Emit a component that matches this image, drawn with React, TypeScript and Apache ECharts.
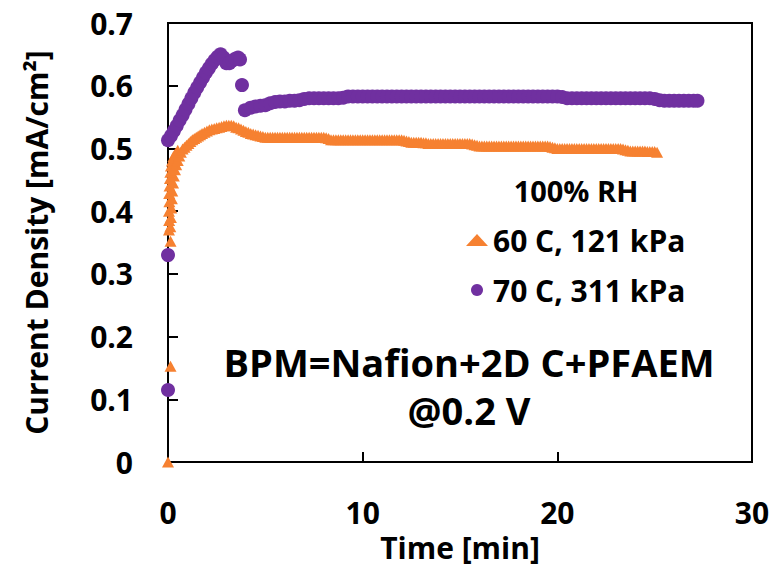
import React, { useEffect, useRef } from "react";
import * as echarts from "echarts";

// Time [min], Current Density [mA/cm2]
const series60C: [number, number][] = [
  [0, 0.0], [0.13, 0.153], [0.13, 0.352],
  [0.05, 0.37], [0.12, 0.375], [0.06, 0.385], [0.15, 0.39], [0.05, 0.4], [0.17, 0.405],
  [0.07, 0.415], [0.2, 0.42], [0.06, 0.428], [0.22, 0.432], [0.08, 0.44], [0.26, 0.445],
  [0.1, 0.452], [0.3, 0.456], [0.12, 0.462], [0.36, 0.466], [0.15, 0.472], [0.42, 0.474],
  [0.2, 0.48], [0.5, 0.481], [0.28, 0.487], [0.58, 0.488], [0.38, 0.492], [0.66, 0.494],
  [0.5, 0.497], [0.75, 0.499], [0.85, 0.502], [0.95, 0.505], [1.05, 0.508], [1.15, 0.511],
  [1.25, 0.514], [1.35, 0.516], [1.45, 0.518], [1.55, 0.52], [1.65, 0.522], [1.75, 0.524],
  [1.875, 0.526], [2.0, 0.528], [2.125, 0.53], [2.25, 0.531], [2.375, 0.532], [2.5, 0.533],
  [2.625, 0.534], [2.75, 0.535], [2.875, 0.536], [3.0, 0.537], [3.125, 0.537], [3.25, 0.537],
  [3.375, 0.536], [3.5, 0.534], [3.625, 0.533], [3.75, 0.531], [3.875, 0.529], [4.0, 0.527],
  [4.125, 0.526], [4.25, 0.524], [4.375, 0.523], [4.5, 0.522], [4.625, 0.521], [4.75, 0.52],
  [4.875, 0.519],
  [5.0, 0.518], [5.125, 0.518], [5.25, 0.518], [5.375, 0.518], [5.5, 0.518], [5.625, 0.518],
  [5.75, 0.518], [5.875, 0.518], [6.0, 0.518], [6.125, 0.518], [6.25, 0.518], [6.375, 0.518],
  [6.5, 0.518], [6.625, 0.518], [6.75, 0.518], [6.875, 0.518], [7.0, 0.518], [7.125, 0.518],
  [7.25, 0.518], [7.375, 0.518], [7.5, 0.518], [7.625, 0.518], [7.75, 0.518], [7.875, 0.518],
  [8.0, 0.518], [8.125, 0.517], [8.25, 0.516],
  [8.375, 0.514], [8.5, 0.514], [8.625, 0.514], [8.75, 0.514], [8.875, 0.514], [9.0, 0.514],
  [9.125, 0.514], [9.25, 0.514], [9.375, 0.514], [9.5, 0.514], [9.625, 0.514], [9.75, 0.514],
  [9.875, 0.514], [10.0, 0.514], [10.125, 0.514], [10.25, 0.514], [10.375, 0.514], [10.5, 0.514],
  [10.625, 0.514], [10.75, 0.514], [10.875, 0.514], [11.0, 0.514], [11.125, 0.514], [11.25, 0.514],
  [11.375, 0.514], [11.5, 0.514], [11.625, 0.514], [11.75, 0.514], [11.875, 0.514], [12.0, 0.514],
  [12.125, 0.513], [12.25, 0.512], [12.375, 0.511],
  [12.5, 0.51], [12.625, 0.51], [12.75, 0.51], [12.875, 0.51], [13.0, 0.51], [13.125, 0.509],
  [13.25, 0.509], [13.375, 0.508],
  [13.5, 0.508], [13.625, 0.508], [13.75, 0.508], [13.875, 0.508], [14.0, 0.508], [14.125, 0.508],
  [14.25, 0.508], [14.375, 0.508], [14.5, 0.508], [14.625, 0.508], [14.75, 0.508], [14.875, 0.508],
  [15.0, 0.508], [15.125, 0.508], [15.25, 0.508], [15.375, 0.508], [15.5, 0.508], [15.625, 0.507],
  [15.75, 0.506], [15.875, 0.505],
  [16.0, 0.504], [16.125, 0.504], [16.25, 0.504], [16.375, 0.504], [16.5, 0.504], [16.625, 0.504],
  [16.75, 0.504], [16.875, 0.504], [17.0, 0.504], [17.125, 0.504], [17.25, 0.504], [17.375, 0.504],
  [17.5, 0.504], [17.625, 0.504], [17.75, 0.504], [17.875, 0.504], [18.0, 0.504], [18.125, 0.504],
  [18.25, 0.504], [18.375, 0.504], [18.5, 0.504], [18.625, 0.504], [18.75, 0.504], [18.875, 0.504],
  [19.0, 0.504], [19.125, 0.504], [19.25, 0.504], [19.375, 0.504], [19.5, 0.504], [19.625, 0.503],
  [19.75, 0.502], [19.875, 0.501],
  [20.0, 0.5], [20.125, 0.5], [20.25, 0.5], [20.375, 0.5], [20.5, 0.5], [20.625, 0.5],
  [20.75, 0.5], [20.875, 0.5], [21.0, 0.5], [21.125, 0.5], [21.25, 0.5], [21.375, 0.5],
  [21.5, 0.5], [21.625, 0.5], [21.75, 0.5], [21.875, 0.5], [22.0, 0.5], [22.125, 0.5],
  [22.25, 0.5], [22.375, 0.5], [22.5, 0.5], [22.625, 0.5], [22.75, 0.5], [22.875, 0.5],
  [23.0, 0.5], [23.125, 0.5], [23.25, 0.5], [23.375, 0.499], [23.5, 0.498], [23.625, 0.497],
  [23.75, 0.496], [23.875, 0.496], [24.0, 0.496], [24.125, 0.496], [24.25, 0.496], [24.375, 0.496],
  [24.5, 0.496], [24.625, 0.495], [24.75, 0.495], [24.875, 0.495], [25.0, 0.495], [25.125, 0.494],
];

const series70C: [number, number][] = [
  [0, 0.115], [0, 0.33], [0, 0.513], [0.15, 0.52], [0.3, 0.528], [0.45, 0.536], [0.6, 0.545],
  [0.75, 0.553], [0.9, 0.562], [1.05, 0.571], [1.2, 0.58], [1.35, 0.589], [1.5, 0.597], [1.65, 0.605],
  [1.8, 0.613], [1.95, 0.621], [2.1, 0.628], [2.25, 0.635], [2.4, 0.641], [2.55, 0.646], [2.7, 0.65],
  [2.85, 0.645], [3.0, 0.636], [3.15, 0.636], [3.3, 0.64], [3.45, 0.643], [3.6, 0.645], [3.7, 0.642],
  [3.8, 0.601], [3.95, 0.561],
  [4.25, 0.565], [4.5, 0.567], [4.75, 0.568], [5.0, 0.569], [5.25, 0.572], [5.5, 0.574],
  [5.75, 0.575], [6.0, 0.575], [6.25, 0.576], [6.5, 0.576], [6.75, 0.577], [7.0, 0.579],
  [7.25, 0.58], [7.5, 0.58], [7.75, 0.58], [8.0, 0.58], [8.25, 0.58], [8.5, 0.58], [8.75, 0.58],
  [9.0, 0.581], [9.25, 0.583], [9.5, 0.583], [9.75, 0.583], [10.0, 0.583], [10.25, 0.583],
  [10.5, 0.583], [10.75, 0.583], [11.0, 0.583], [11.25, 0.583], [11.5, 0.583], [11.75, 0.583],
  [12.0, 0.583], [12.25, 0.583], [12.5, 0.583], [12.75, 0.583], [13.0, 0.583], [13.25, 0.583],
  [13.5, 0.583], [13.75, 0.583], [14.0, 0.583], [14.25, 0.583], [14.5, 0.583], [14.75, 0.583],
  [15.0, 0.583], [15.25, 0.583], [15.5, 0.583], [15.75, 0.583], [16.0, 0.583], [16.25, 0.583],
  [16.5, 0.583], [16.75, 0.583], [17.0, 0.583], [17.25, 0.583], [17.5, 0.583], [17.75, 0.583],
  [18.0, 0.583], [18.25, 0.583], [18.5, 0.583], [18.75, 0.583], [19.0, 0.583], [19.25, 0.583],
  [19.5, 0.583], [19.75, 0.583], [20.0, 0.583], [20.25, 0.582],
  [20.5, 0.58], [20.75, 0.58], [21.0, 0.58], [21.25, 0.58], [21.5, 0.58], [21.75, 0.58],
  [22.0, 0.58], [22.25, 0.58], [22.5, 0.58], [22.75, 0.58], [23.0, 0.58], [23.25, 0.58],
  [23.5, 0.58], [23.75, 0.58], [24.0, 0.58], [24.25, 0.58], [24.5, 0.58], [24.75, 0.58],
  [25.0, 0.579], [25.25, 0.577],
  [25.5, 0.576], [25.75, 0.576], [26.0, 0.576], [26.25, 0.576], [26.5, 0.576], [26.75, 0.576],
  [27.0, 0.576], [27.2, 0.576],
];

const seriesNames = ["60 C, 121 kPa", "70 C, 311 kPa"];
const legendTitle = "100% RH";
const annotationLines = ["BPM=Nafion+2D C+PFAEM", "@0.2 V"];
const xAxisTitle = "Time [min]";
const yAxisTitle = "Current Density [mA/cm²]";

const ORANGE = "#F68131";
const PURPLE = "#7030A0";
const FONT = "Open Sans";
const FS = 30;

export default function App() {
  const ref = useRef<HTMLDivElement>(null);

  useEffect(() => {
    if (!ref.current) return;
    const chart = echarts.init(ref.current, undefined, { renderer: "svg" });
    chart.setOption({
      animation: false,
      backgroundColor: "#fff",
      textStyle: { fontFamily: FONT, fontWeight: "bold", color: "#000" },
      grid: {
        left: 168,
        right: 27,
        top: 23,
        bottom: 104,
        show: true,
        borderColor: "#000",
        borderWidth: 2,
      },
      xAxis: {
        type: "value",
        min: 0,
        max: 30,
        interval: 10,
        name: xAxisTitle,
        nameLocation: "middle",
        nameGap: 69,
        nameTextStyle: { fontFamily: FONT, fontWeight: "bold", fontSize: FS, color: "#000" },
        axisLine: { show: true, lineStyle: { color: "#000", width: 2 } },
        axisTick: { show: true, inside: true, length: 10, lineStyle: { color: "#000", width: 2 } },
        axisLabel: { fontFamily: FONT, fontWeight: "bold", fontSize: FS, color: "#000", margin: 35 },
        splitLine: { show: false },
      },
      yAxis: {
        type: "value",
        min: 0,
        max: 0.7,
        interval: 0.1,
        name: yAxisTitle,
        nameLocation: "middle",
        nameGap: 117,
        nameTextStyle: { fontFamily: FONT, fontWeight: "bold", fontSize: FS, color: "#000" },
        axisLine: { show: true, lineStyle: { color: "#000", width: 2 } },
        axisTick: { show: true, inside: true, length: 10, lineStyle: { color: "#000", width: 2 } },
        axisLabel: {
          fontFamily: FONT,
          fontWeight: "bold",
          fontSize: FS,
          color: "#000",
          margin: 35,
          formatter: (v: number) => (v === 0 ? "0" : v.toFixed(1)),
        },
        splitLine: { show: false },
      },
      legend: {
        orient: "vertical",
        left: 461,
        top: 219,
        padding: 5,
        itemWidth: 22,
        itemHeight: 12,
        itemGap: 18,
        textStyle: { fontFamily: FONT, fontWeight: "bold", fontSize: FS, color: "#000", lineHeight: 32 },
        data: [
          { name: seriesNames[0], icon: "triangle" },
          { name: seriesNames[1], icon: "circle" },
        ],
      },
      graphic: [
        {
          type: "text",
          x: 576,
          y: 190,
          style: {
            text: legendTitle,
            fontFamily: FONT,
            fontWeight: "bold",
            fontSize: 29,
            fill: "#000",
            textAlign: "center",
            textVerticalAlign: "middle",
          },
        },
        {
          type: "text",
          x: 469,
          y: 386,
          style: {
            text: annotationLines.join("\n"),
            fontFamily: FONT,
            fontWeight: "bold",
            fontSize: 38,
            lineHeight: 48,
            fill: "#000",
            textAlign: "center",
            textVerticalAlign: "middle",
          },
        },
      ],
      series: [
        {
          name: seriesNames[0],
          type: "scatter",
          symbol: "triangle",
          symbolSize: [12, 11],
          itemStyle: { color: ORANGE, opacity: 1 },
          data: series60C,
          z: 2,
        },
        {
          name: seriesNames[1],
          type: "scatter",
          symbol: "circle",
          symbolSize: 14,
          itemStyle: { color: PURPLE, opacity: 1 },
          data: series70C,
          z: 3,
        },
      ],
    });
    return () => chart.dispose();
  }, []);

  return <div ref={ref} style={{ width: 779, height: 567, position: "absolute", left: 0, top: 0 }} />;
}
